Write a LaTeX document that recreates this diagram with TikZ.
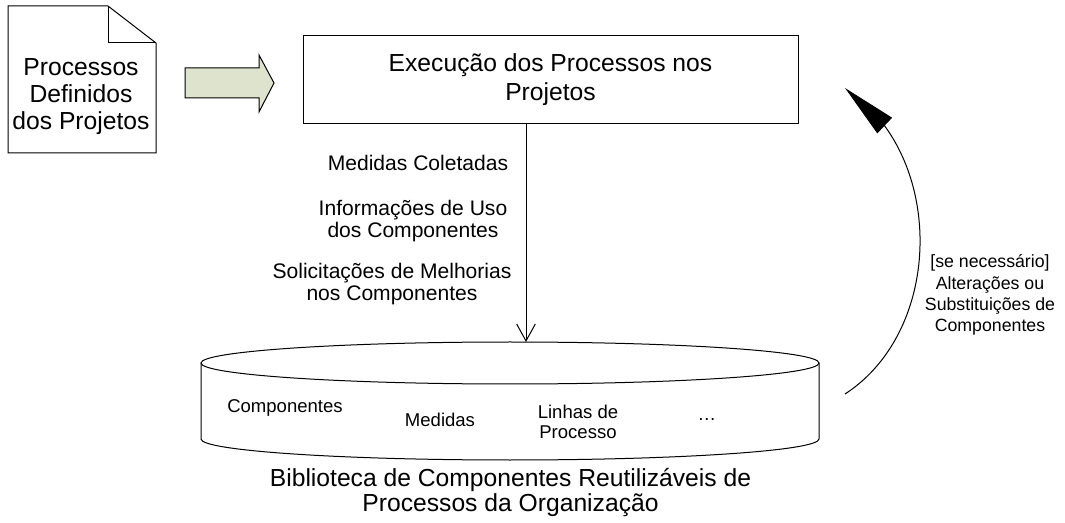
\documentclass[tikz,border=0pt]{standalone}
\usepackage{fontspec}
\setmainfont{Liberation Sans}
\usepackage{tikz}
\usetikzlibrary{arrows.meta,bending}
\definecolor{arrowgreen}{RGB}{221,227,205}

\begin{document}
\begin{tikzpicture}
	[x=0.75pt,y=0.75pt,line width=0.75pt,
	 bigtext/.style={font=\fontsize{18.5}{20.25}\selectfont,align=center,inner sep=0pt},
	 flowlabel/.style={font=\fontsize{15.8}{16.5}\selectfont,align=center,inner sep=0pt},
	 libitem/.style={font=\fontsize{13.9}{15}\selectfont,align=center,inner sep=0pt},
	 backlabel/.style={font=\fontsize{13.3}{16}\selectfont,align=center,inner sep=0pt}]
\useasboundingbox (0,0) rectangle (1065,522);
% documento com canto dobrado
\draw[fill=white] (8,369) -- (8,516) -- (108,516) -- (156,479) -- (156,369) -- cycle;
\draw (108,516) -- (108,479) -- (156,479);
\node[bigtext] (procdef) at (81,425) {Processos\\Definidos\\dos Projetos};
% seta larga
\draw[fill=arrowgreen] (185,424) -- (185,454) -- (259,454) -- (259,467)
  -- (274,439) -- (259,410) -- (259,424) -- cycle;
\node[draw,fill=white,minimum width=371.25pt,minimum height=66pt,bigtext,
  font=\fontsize{18.5}{21.75}\selectfont] (exec) at (550.5,442)
  {Execução dos Processos nos\\Projetos};
% biblioteca (cilindro)
\draw[fill=white] (201,159) -- (201,83)
  arc[start angle=180,end angle=360,x radius=309,y radius=21] -- (819,159);
\draw (510,159) ellipse[x radius=309,y radius=21];
\coordinate (libtop) at (526,180);
\draw[-{Straight Barb[length=12.75pt,width=14pt]}] (exec.south -| libtop) -- (libtop);
\path (418,359) node[flowlabel] (coleta) {Medidas Coletadas}
(413,301) node[flowlabel] (uso) {Informações de Uso\\dos Componentes}
(392,238) node[flowlabel] (melhoria) {Solicitações de Melhorias\\nos Componentes};
\path (285,114) node[libitem] (comp) {Componentes}
(440,102) node[libitem] (med) {Medidas}
(578,100) node[libitem] (linhas) {Linhas de\\Processo}
(707,102) node[libitem] (etc) {…};
\node[bigtext,font=\fontsize{18.5}{18.75}\selectfont] (biblio) at (510.5,29.5)
  {Biblioteca de Componentes Reutilizáveis de\\Processos da Organização};
% retorno
\coordinate (retorno) at (845,128);
\coordinate (exectop) at (845,434);
\draw[-{Triangle[length=41pt,width=16pt,flex]}] (retorno) to[bend right=57] (exectop);
\node[backlabel] (alter) at (990,227)
  {[se necessário]\\Alterações ou\\Substituições de\\Componentes};
\end{tikzpicture}
\end{document}
